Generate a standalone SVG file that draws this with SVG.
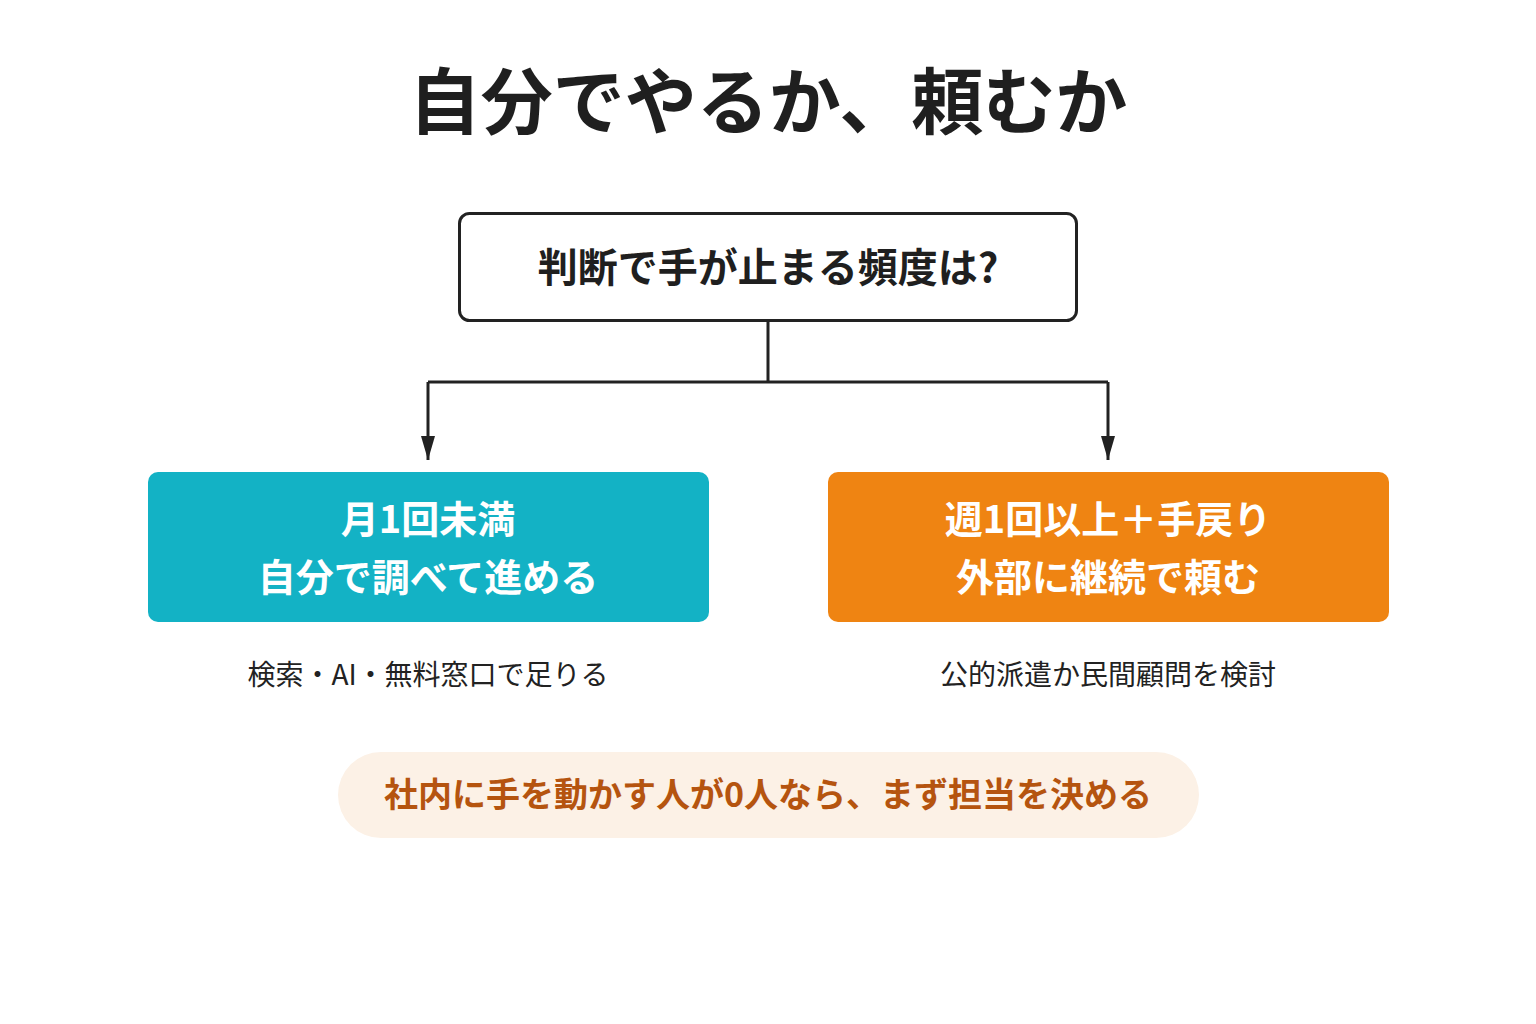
<svg xmlns="http://www.w3.org/2000/svg" width="1536" height="1024" viewBox="0 0 1536 1024">
<style>
text{font-family:"Noto Sans CJK JP","Noto Sans",sans-serif;text-anchor:middle}
.b{font-weight:700}
.w{fill:#fff;font-size:38px;font-weight:700}
.s{fill:#222;font-size:28px}
.c{stroke:#222;stroke-width:3;fill:none}
</style>
<defs><marker id="a" viewBox="0 0 10 10" refX="10" refY="5" markerWidth="8" markerHeight="8" markerUnits="userSpaceOnUse" orient="auto"><path d="M0,0L10,5L0,10z" fill="#222"/></marker>
<marker id="ah" viewBox="0 0 24 14" refX="24" refY="7" markerWidth="24" markerHeight="14" markerUnits="userSpaceOnUse" orient="auto"><path d="M0,0L24,7L0,14z" fill="#222"/></marker></defs>
<rect width="1536" height="1024" fill="#fff"/>
<text id="title" x="768" y="128" class="b" font-size="72" fill="#1f1f1f">自分でやるか、頼むか</text>
<g id="connectors">
<path class="c" d="M768,321V382M428,382H1108"/>
<path class="c" d="M428,382V460" marker-end="url(#ah)"/>
<path class="c" d="M1108,382V460" marker-end="url(#ah)"/>
</g>
<g id="q"><rect x="459.5" y="213.5" width="617" height="107" rx="10" fill="#fff" stroke="#222" stroke-width="3"/>
<text x="768" y="282" class="b" font-size="40" fill="#1f1f1f">判断で手が止まる頻度は?</text></g>
<g id="left"><rect x="148" y="472" width="561" height="150" rx="10" fill="#13B2C5"/>
<text x="428" y="533" class="w">月1回未満</text><text x="428" y="591" class="w">自分で調べて進める</text></g>
<g id="right"><rect x="828" y="472" width="561" height="150" rx="10" fill="#EF8412"/>
<text x="1108" y="533" class="w">週1回以上＋手戻り</text><text x="1108" y="591" class="w">外部に継続で頼む</text></g>
<g id="lnote"><text x="428" y="685" class="s">検索・AI・無料窓口で足りる</text></g>
<g id="rnote"><text x="1108" y="685" class="s">公的派遣か民間顧問を検討</text></g>
<g id="bottom"><rect x="338" y="752" width="861" height="86" rx="43" fill="#FCF1E6"/>
<text x="768" y="807" class="b" font-size="34" fill="#B5540F">社内に手を動かす人が0人なら、まず担当を決める</text></g>
</svg>
